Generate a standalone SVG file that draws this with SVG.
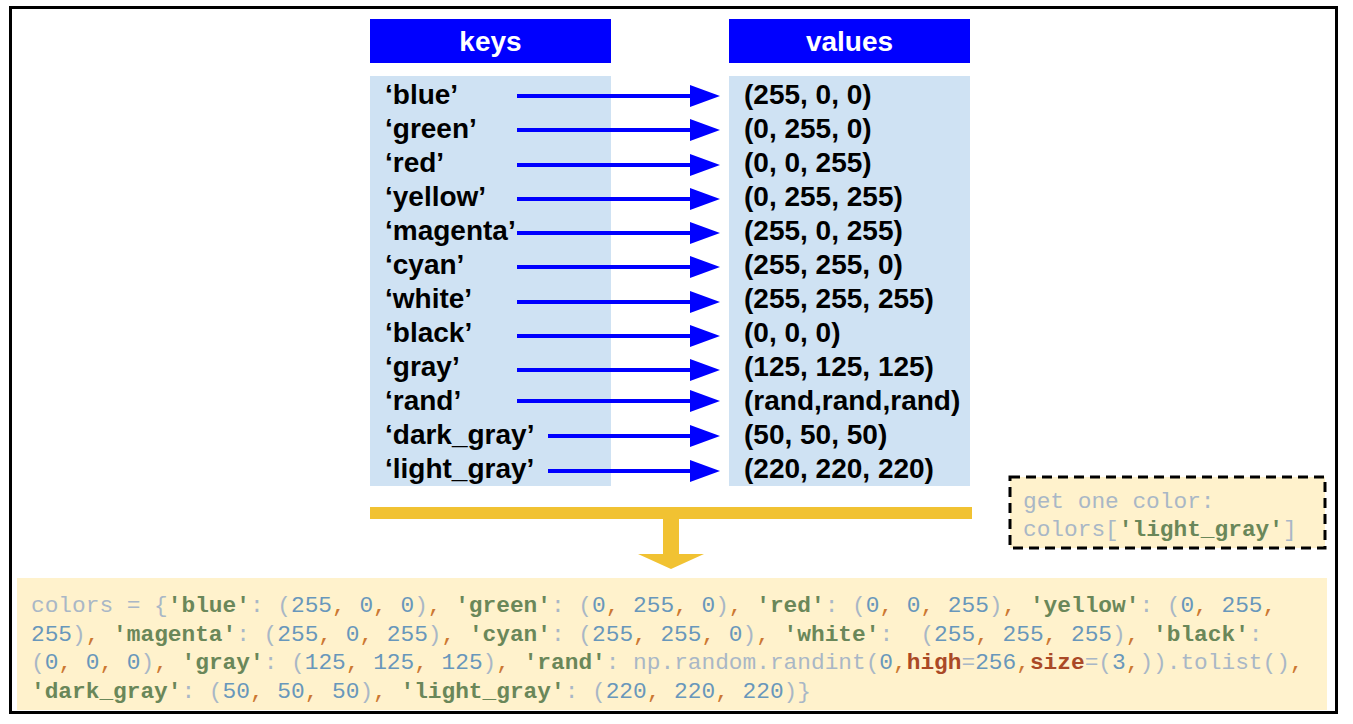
<svg xmlns="http://www.w3.org/2000/svg" width="1353" height="724" viewBox="0 0 1353 724">
<defs>
<marker id="ah" markerUnits="userSpaceOnUse" markerWidth="30" markerHeight="22" refX="0" refY="11" orient="auto">
<path d="M0,0 L30,11 L0,22 Z" fill="#0000ff"/>
</marker>
<style>
.hdr{fill:#0000ff}
.body{fill:#cfe2f3}
.ht{font-family:"Liberation Sans",Arial,sans-serif;font-weight:bold;font-size:28px;fill:#ffffff;text-anchor:middle}
.kt{font-family:"Liberation Sans",Arial,sans-serif;font-weight:bold;font-size:28px;fill:#000000}
.ar{stroke:#0000ff;stroke-width:4;fill:none;marker-end:url(#ah)}
.code{font-family:"Liberation Mono","Courier New",monospace;font-size:22.8px;fill:#a9b7c6;white-space:pre}
.s{fill:#6a8759;font-weight:bold}
.n{fill:#6897bb}
.c{fill:#cc7832}
.k{fill:#aa4926;font-weight:bold}
</style>
</defs>
<rect x="10.5" y="7.5" width="1326" height="705" fill="#ffffff" stroke="#000000" stroke-width="3"/>

<g id="keys-header"><rect class="hdr" x="370" y="19" width="241" height="44"/><text class="ht" x="490.5" y="51">keys</text></g>
<g id="values-header"><rect class="hdr" x="729" y="19" width="241" height="44"/><text class="ht" x="849.5" y="51">values</text></g>

<g id="keys">
<rect class="body" x="370" y="76" width="241" height="410"/>
<text class="kt" x="385" y="104">‘blue’</text>
<text class="kt" x="385" y="138">‘green’</text>
<text class="kt" x="385" y="172">‘red’</text>
<text class="kt" x="385" y="206">‘yellow’</text>
<text class="kt" x="385" y="240">‘magenta’</text>
<text class="kt" x="385" y="274">‘cyan’</text>
<text class="kt" x="385" y="308">‘white’</text>
<text class="kt" x="385" y="342">‘black’</text>
<text class="kt" x="385" y="376">‘gray’</text>
<text class="kt" x="385" y="410">‘rand’</text>
<text class="kt" x="385" y="444">‘dark_gray’</text>
<text class="kt" x="385" y="478">‘light_gray’</text>
</g>

<g id="values">
<rect class="body" x="729" y="76" width="241" height="410"/>
<text class="kt" x="744" y="104">(255, 0, 0)</text>
<text class="kt" x="744" y="138">(0, 255, 0)</text>
<text class="kt" x="744" y="172">(0, 0, 255)</text>
<text class="kt" x="744" y="206">(0, 255, 255)</text>
<text class="kt" x="744" y="240">(255, 0, 255)</text>
<text class="kt" x="744" y="274">(255, 255, 0)</text>
<text class="kt" x="744" y="308">(255, 255, 255)</text>
<text class="kt" x="744" y="342">(0, 0, 0)</text>
<text class="kt" x="744" y="376">(125, 125, 125)</text>
<text class="kt" x="744" y="410">(rand,rand,rand)</text>
<text class="kt" x="744" y="444">(50, 50, 50)</text>
<text class="kt" x="744" y="478">(220, 220, 220)</text>
</g>

<g id="connectors">
<line class="ar" x1="517" y1="96" x2="690" y2="96"/>
<line class="ar" x1="517" y1="130" x2="690" y2="130"/>
<line class="ar" x1="517" y1="165" x2="690" y2="165"/>
<line class="ar" x1="517" y1="199" x2="690" y2="199"/>
<line class="ar" x1="517" y1="233" x2="690" y2="233"/>
<line class="ar" x1="517" y1="267" x2="690" y2="267"/>
<line class="ar" x1="517" y1="302" x2="690" y2="302"/>
<line class="ar" x1="517" y1="336" x2="690" y2="336"/>
<line class="ar" x1="517" y1="370" x2="690" y2="370"/>
<line class="ar" x1="517" y1="401" x2="690" y2="401"/>
<line class="ar" x1="548" y1="436" x2="690" y2="436"/>
<line class="ar" x1="548" y1="471" x2="690" y2="471"/>
<path id="merge-arrow" d="M370,507 H972 V519 H679 V554 H704 L671,569 L638,554 H663 V519 H370 Z" fill="#f1c232"/>
</g>

<g id="code-box">
<rect x="17" y="578" width="1310" height="132" fill="#fff2cc"/>
<text class="code" x="31" y="612">colors = {<tspan class="s">'blue'</tspan>: (<tspan class="n">255</tspan><tspan class="c">, </tspan><tspan class="n">0</tspan><tspan class="c">, </tspan><tspan class="n">0</tspan>)<tspan class="c">, </tspan><tspan class="s">'green'</tspan>: (<tspan class="n">0</tspan><tspan class="c">, </tspan><tspan class="n">255</tspan><tspan class="c">, </tspan><tspan class="n">0</tspan>)<tspan class="c">, </tspan><tspan class="s">'red'</tspan>: (<tspan class="n">0</tspan><tspan class="c">, </tspan><tspan class="n">0</tspan><tspan class="c">, </tspan><tspan class="n">255</tspan>)<tspan class="c">, </tspan><tspan class="s">'yellow'</tspan>: (<tspan class="n">0</tspan><tspan class="c">, </tspan><tspan class="n">255</tspan><tspan class="c">,</tspan></text>
<text class="code" x="31" y="640.5"><tspan class="n">255</tspan>)<tspan class="c">, </tspan><tspan class="s">'magenta'</tspan>: (<tspan class="n">255</tspan><tspan class="c">, </tspan><tspan class="n">0</tspan><tspan class="c">, </tspan><tspan class="n">255</tspan>)<tspan class="c">, </tspan><tspan class="s">'cyan'</tspan>: (<tspan class="n">255</tspan><tspan class="c">, </tspan><tspan class="n">255</tspan><tspan class="c">, </tspan><tspan class="n">0</tspan>)<tspan class="c">, </tspan><tspan class="s">'white'</tspan>:  (<tspan class="n">255</tspan><tspan class="c">, </tspan><tspan class="n">255</tspan><tspan class="c">, </tspan><tspan class="n">255</tspan>)<tspan class="c">, </tspan><tspan class="s">'black'</tspan>:</text>
<text class="code" x="31" y="669">(<tspan class="n">0</tspan><tspan class="c">, </tspan><tspan class="n">0</tspan><tspan class="c">, </tspan><tspan class="n">0</tspan>)<tspan class="c">, </tspan><tspan class="s">'gray'</tspan>: (<tspan class="n">125</tspan><tspan class="c">, </tspan><tspan class="n">125</tspan><tspan class="c">, </tspan><tspan class="n">125</tspan>)<tspan class="c">, </tspan><tspan class="s">'rand'</tspan>: np.random.randint(<tspan class="n">0</tspan><tspan class="c">,</tspan><tspan class="k">high</tspan>=<tspan class="n">256</tspan><tspan class="c">,</tspan><tspan class="k">size</tspan>=(<tspan class="n">3</tspan><tspan class="c">,</tspan>)).tolist()<tspan class="c">,</tspan></text>
<text class="code" x="31" y="697.5"><tspan class="s">'dark_gray'</tspan>: (<tspan class="n">50</tspan><tspan class="c">, </tspan><tspan class="n">50</tspan><tspan class="c">, </tspan><tspan class="n">50</tspan>)<tspan class="c">, </tspan><tspan class="s">'light_gray'</tspan>: (<tspan class="n">220</tspan><tspan class="c">, </tspan><tspan class="n">220</tspan><tspan class="c">, </tspan><tspan class="n">220</tspan>)}</text>
</g>

<g id="note-box">
<rect x="1010" y="477" width="315" height="71" fill="#fff2cc" stroke="#000000" stroke-width="3" stroke-dasharray="10,6"/>
<text class="code" x="1023" y="508">get one color:</text>
<text class="code" x="1023" y="536">colors[<tspan class="s">'light_gray'</tspan>]</text>
</g>
</svg>
